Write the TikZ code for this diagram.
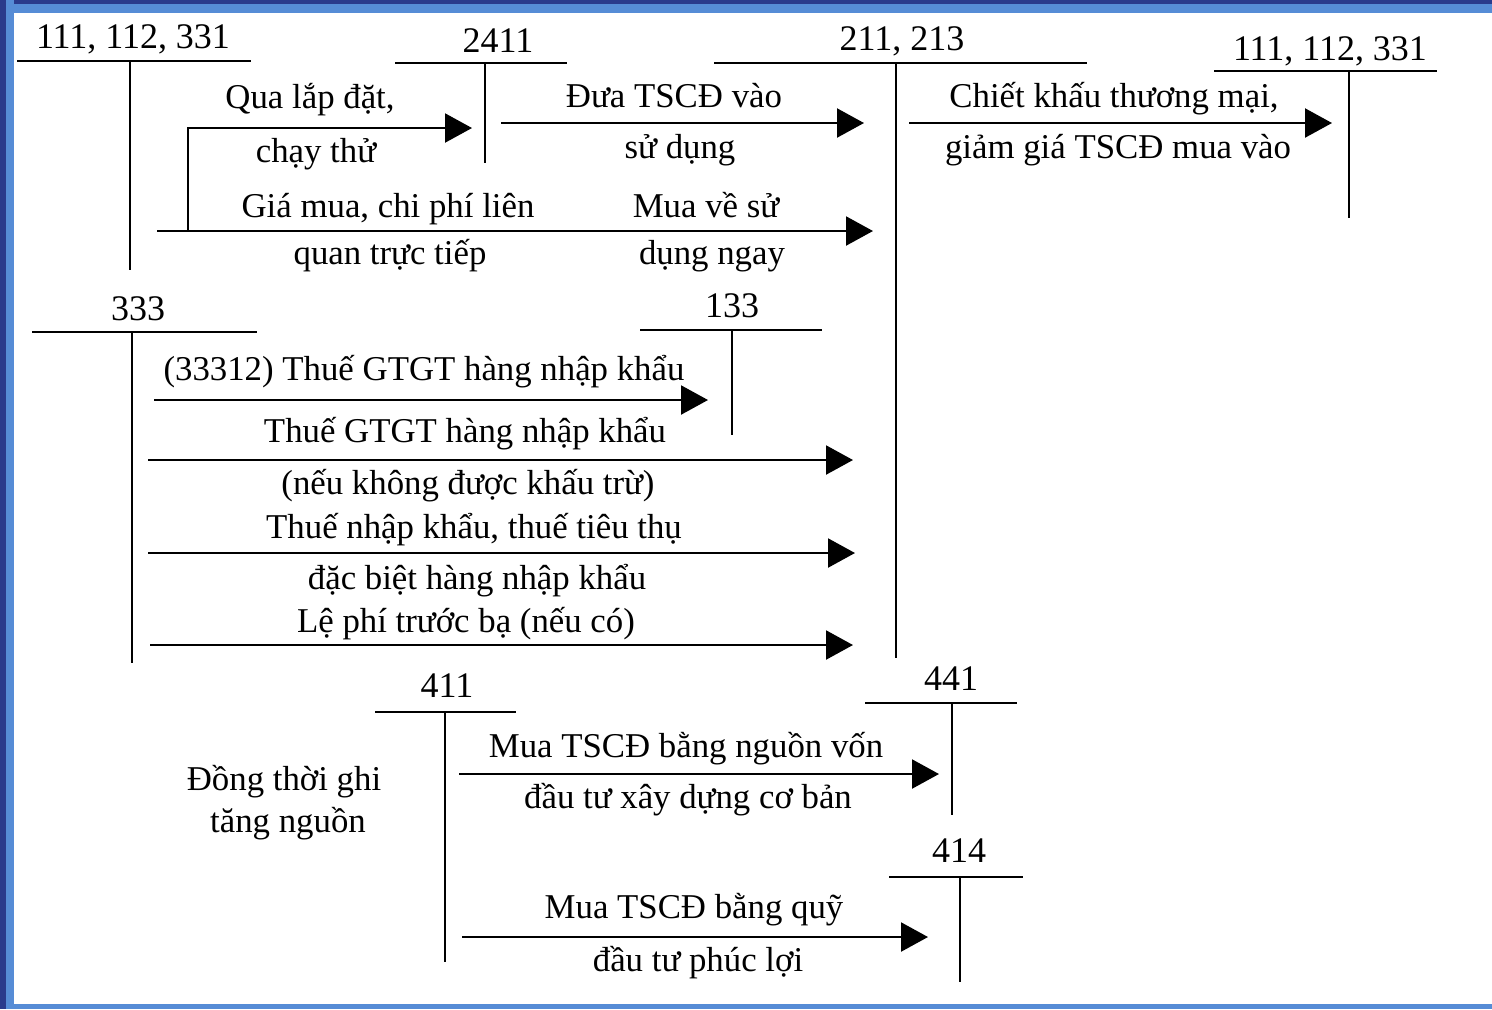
\documentclass[tikz,border=0pt]{standalone}
\usepackage{fontspec}
\setmainfont{Liberation Serif}
\usetikzlibrary{arrows.meta}
\definecolor{bdark}{RGB}{42,58,140}
\definecolor{blight}{RGB}{86,140,214}
\begin{document}
\begin{tikzpicture}[x=0.5pt,y=-0.5pt,
  acct/.style={line width=1.1pt},
  flow/.style={line width=1.1pt,-{Triangle[length=13.5pt,width=14.5pt]}},
  lbl/.style={anchor=base,inner sep=0pt,font=\fontsize{17.4}{20}\selectfont},
  num/.style={anchor=base,inner sep=0pt,font=\fontsize{18}{21}\selectfont}]
\useasboundingbox (0,0) rectangle (1492,1009);
\fill[white] (0,0) rectangle (1492,1009);
% frame
\fill[blight] (0,0) rectangle (1492,13);
\fill[bdark] (0,0) rectangle (1492,4);
\fill[blight] (0,0) rectangle (14,1009);
\fill[bdark] (0,0) rectangle (6,1009);
\fill[blight] (6,1004) rectangle (1492,1009);

% ---- T accounts ----
% 111,112,331 (left)
\node[num] (aL) at (133,48) {111, 112, 331};
\draw[acct] (17,61) -- (251,61) (130,61) -- (130,270);
% 2411
\node[num] (a2411) at (498,52) {2411};
\draw[acct] (395,63) -- (567,63) (485,63) -- (485,163);
% 211,213
\node[num] (a211) at (902,50) {211, 213};
\draw[acct] (714,63) -- (1087,63) (896,63) -- (896,658);
% 111,112,331 (right)
\node[num] (aR) at (1330,60) {111, 112, 331};
\draw[acct] (1214,71) -- (1437,71) (1349,71) -- (1349,218);
% 333
\node[num] (a333) at (138,320) {333};
\draw[acct] (32,332) -- (257,332) (132,332) -- (132,663);
% 133
\node[num] (a133) at (732,317) {133};
\draw[acct] (640,330) -- (822,330) (732,330) -- (732,435);
% 411
\node[num] (a411) at (447,697) {411};
\draw[acct] (375,712) -- (516,712) (445,712) -- (445,962);
% 441
\node[num] (a441) at (951,690) {441};
\draw[acct] (865,703) -- (1017,703) (952,703) -- (952,815);
% 414
\node[num] (a414) at (959,862) {414};
\draw[acct] (889,877) -- (1023,877) (960,877) -- (960,982);

% ---- connector end points ----
\coordinate (s1) at (157,231);  \coordinate (e1) at (873,231);
\coordinate (b1) at (188,231);  \coordinate (e2) at (472,128);
\coordinate (s3) at (501,123);  \coordinate (e3) at (864,123);
\coordinate (s4) at (909,123);  \coordinate (e4) at (1332,123);
\coordinate (s5) at (154,400);  \coordinate (e5) at (708,400);
\coordinate (s6) at (148,460);  \coordinate (e6) at (853,460);
\coordinate (s7) at (148,553);  \coordinate (e7) at (855,553);
\coordinate (s8) at (150,645);  \coordinate (e8) at (853,645);
\coordinate (s9) at (459,774);  \coordinate (e9) at (939,774);
\coordinate (s10) at (462,937); \coordinate (e10) at (928,937);

\draw[flow] (s1) -- (e1);
\draw[flow] (b1) |- (e2);
\draw[flow] (s3) -- (e3);
\draw[flow] (s4) -- (e4);
\draw[flow] (s5) -- (e5);
\draw[flow] (s6) -- (e6);
\draw[flow] (s7) -- (e7);
\draw[flow] (s8) -- (e8);
\draw[flow] (s9) -- (e9);
\draw[flow] (s10) -- (e10);

% ---- texts ----
\node[lbl] (t1) at (310,108) {Qua lắp đặt,};
\node[lbl] (t2) at (316,162) {chạy thử};
\node[lbl] (t3) at (388,217) {Giá mua, chi phí liên};
\node[lbl] (t4) at (390,264) {quan trực tiếp};
\node[lbl] (t5) at (706,217) {Mua về sử};
\node[lbl] (t6) at (712,264) {dụng ngay};
\node[lbl] (t7) at (674,107) {Đưa TSCĐ vào};
\node[lbl] (t8) at (680,158) {sử dụng};
\node[lbl] (t9) at (1114,107) {Chiết khấu thương mại,};
\node[lbl] (t10) at (1118,158) {giảm giá TSCĐ mua vào};
\node[lbl] (t11) at (424,380) {(33312) Thuế GTGT hàng nhập khẩu};
\node[lbl] (t12) at (465,442) {Thuế GTGT hàng nhập khẩu};
\node[lbl] (t13) at (468,494) {(nếu không được khấu trừ)};
\node[lbl] (t14) at (474,538) {Thuế nhập khẩu, thuế tiêu thụ};
\node[lbl] (t15) at (477,589) {đặc biệt hàng nhập khẩu};
\node[lbl] (t16) at (466,632) {Lệ phí trước bạ (nếu có)};
\node[lbl] (t17) at (284,790) {Đồng thời ghi};
\node[lbl] (t18) at (288,832) {tăng nguồn};
\node[lbl] (t19) at (686,757) {Mua TSCĐ bằng nguồn vốn};
\node[lbl] (t20) at (688,808) {đầu tư xây dựng cơ bản};
\node[lbl] (t21) at (694,918) {Mua TSCĐ bằng quỹ};
\node[lbl] (t22) at (698,971) {đầu tư phúc lợi};
\end{tikzpicture}
\end{document}
